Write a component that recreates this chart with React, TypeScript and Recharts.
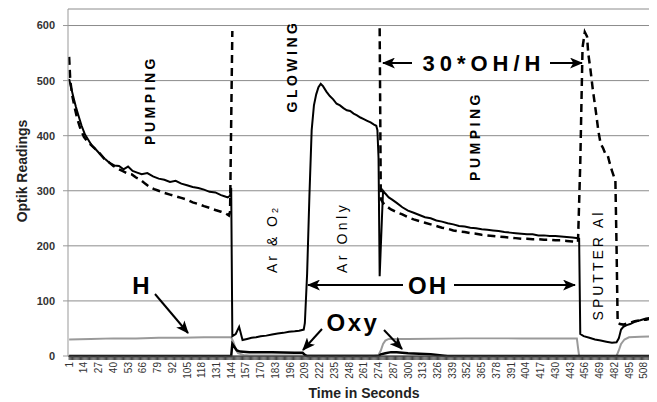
import React from 'react';
import { LineChart, Line, XAxis, YAxis, CartesianGrid } from 'recharts';

const FONT = '"Liberation Sans", Arial, sans-serif';

// [second, reading] pairs
const ohPoints: Array<[number, number]> = [
  [1, 503], [3, 485], [5, 468], [7, 452], [9, 438], [12, 418], [15, 402], [18, 392], [21, 382],
  [25, 374], [29, 365], [33, 357], [37, 350], [41, 346], [45, 345], [49, 339], [53, 344], [57, 336],
  [61, 333], [65, 330], [70, 332], [75, 326], [80, 322], [85, 320], [90, 316], [95, 318], [100, 313],
  [105, 310], [110, 307], [115, 305], [120, 302], [125, 298], [130, 297], [135, 292], [138, 290],
  [141, 288], [143, 291], [144, 305], [145, 36], [148, 40], [151, 53], [154, 29], [158, 31], [162, 33],
  [166, 34], [170, 36], [175, 37], [180, 39], [185, 41], [190, 42], [195, 44], [200, 45], [204, 46],
  [208, 48], [209, 60], [211, 150], [213, 290], [215, 410], [217, 455], [219, 475], [221, 488],
  [223, 494], [225, 490], [228, 480], [231, 472], [234, 466], [237, 458], [240, 455], [243, 450],
  [246, 446], [249, 445], [252, 440], [255, 437], [258, 433], [261, 430], [264, 427], [267, 424],
  [270, 420], [272, 418], [273, 410], [274, 360], [275, 145], [277, 250], [278, 300], [280, 295],
  [283, 288], [286, 284], [290, 278], [295, 270], [300, 264], [305, 260], [310, 256], [315, 252],
  [320, 250], [325, 246], [330, 244], [335, 241], [340, 239], [345, 236], [350, 235], [355, 233],
  [360, 232], [365, 230], [370, 229], [375, 228], [380, 227], [385, 225], [390, 224], [395, 223],
  [400, 222], [405, 221], [410, 221], [415, 219], [420, 219], [425, 218], [430, 218], [435, 217],
  [440, 216], [445, 215], [450, 214], [451, 213], [452, 40], [455, 36], [460, 33], [465, 30],
  [470, 28], [475, 26], [480, 24], [484, 25], [486, 32], [488, 48], [490, 53], [493, 56], [496, 58],
  [500, 62], [505, 65], [510, 68], [515, 70], [520, 72], [525, 73], [530, 74],
];

const ratioPoints: Array<[number, number | null]> = [
  [1, 543], [2, 500], [4, 470], [6, 450], [8, 432], [11, 412], [14, 398], [17, 390], [20, 384],
  [24, 376], [28, 368], [32, 358], [36, 352], [40, 345], [44, 340], [48, 336], [52, 332], [56, 330],
  [60, 324], [64, 320], [68, 313], [72, 307], [76, 303], [80, 300], [85, 296], [90, 293], [95, 290],
  [100, 287], [105, 284], [110, 279], [115, 276], [120, 272], [125, 269], [130, 265], [135, 262],
  [139, 259], [142, 255], [143, 262], [145, 590], [146, null], [274, null], [275, 595], [276, 285],
  [278, 278], [281, 272], [285, 266], [290, 261], [295, 257], [300, 252], [305, 248], [310, 245],
  [315, 242], [320, 239], [325, 236], [330, 233], [335, 231], [340, 228], [345, 226], [350, 225],
  [355, 223], [360, 222], [365, 220], [370, 219], [375, 218], [380, 217], [385, 216], [390, 215],
  [395, 214], [400, 213], [405, 213], [410, 212], [415, 212], [420, 211], [425, 211], [430, 210],
  [435, 210], [440, 209], [445, 208], [450, 207], [452, 350], [454, 560], [456, 588], [458, 580],
  [459, 550], [461, 520], [463, 485], [466, 440], [468, 408], [470, 385], [472, 378], [474, 368],
  [476, 366], [478, 350], [480, 336], [483, 318], [484, 200], [485, 60], [487, 58], [490, 57],
  [495, 60], [500, 63], [505, 65], [510, 66], [515, 68], [520, 69], [530, 71],
];

const hPoints: Array<[number, number]> = [
  [1, 30], [20, 31], [40, 32], [60, 32], [80, 33], [100, 33], [120, 34], [140, 34], [144, 34],
  [146, 25], [148, 12], [150, 5], [155, 2], [160, 1], [200, 1], [240, 1], [270, 1], [274, 2],
  [276, 10], [278, 22], [280, 28], [283, 31], [300, 31], [350, 32], [400, 32], [449, 32], [450, 15],
  [451, 0], [484, 0], [486, 10], [488, 22], [491, 30], [495, 34], [505, 35], [520, 36], [530, 37],
];

const oxyPoints: Array<[number, number]> = [
  [1, 0], [144, 0], [145, 22], [147, 16], [149, 10], [152, 8], [160, 7], [180, 7], [200, 6],
  [207, 6], [209, 2], [211, 0], [274, 0], [276, 3], [280, 5], [285, 7], [290, 7], [295, 6],
  [300, 5], [310, 4], [320, 3], [330, 1], [335, 0], [530, 0],
];

const yTicks = [0, 100, 200, 300, 400, 500, 600];
const labelledSeconds = [
  1, 14, 27, 40, 53, 66, 79, 92, 105, 118, 131, 144, 157, 170, 183, 196, 209, 222, 235, 248, 261,
  274, 287, 300, 313, 326, 339, 352, 365, 378, 391, 404, 417, 430, 443, 456, 469, 482, 495, 508, 521,
];
const everySecond = Array.from({ length: 539 }, (_, i) => i + 1);

const toRows = (pts: Array<[number, number | null]>) => pts.map(([t, v]) => ({ t, v }));

function SecondTick({ x, y, payload }: any) {
  if (!labelledSeconds.includes(payload.value)) return <g />;
  return (
    <text
      x={x}
      y={y}
      transform={`rotate(-90, ${x}, ${y})`}
      textAnchor="end"
      dominantBaseline="central"
      fontSize={10}
      fill="#333"
      fontFamily={FONT}
    >
      {payload.value}
    </text>
  );
}

function VText({ x, y, children, size = 14, weight = 'bold', spacing = 4, anchor = 'middle' }: any) {
  return (
    <text
      x={x}
      y={y}
      transform={`rotate(-90, ${x}, ${y})`}
      textAnchor={anchor}
      dominantBaseline="central"
      fontSize={size}
      fontWeight={weight}
      letterSpacing={spacing}
      fontFamily={FONT}
      fill="#000"
    >
      {children}
    </text>
  );
}

function Notes() {
  const arrow = { stroke: '#000', strokeWidth: 2, markerEnd: 'url(#head)' };
  const big = { fontFamily: FONT, fontWeight: 'bold', fill: '#000', dominantBaseline: 'central', textAnchor: 'middle' } as any;
  return (
    <svg width={680} height={394} style={{ position: 'absolute', left: 0, top: 0, pointerEvents: 'none' }}>
      <defs>
        <marker id="head" viewBox="0 0 12 10" refX="11" refY="5" markerWidth="13" markerHeight="11" markerUnits="userSpaceOnUse" orient="auto">
          <path d="M0,0 L12,5 L0,10 L3,5 z" fill="#000" />
        </marker>
      </defs>
      <VText x={142} y={92} spacing={3.5}>PUMPING</VText>
      <VText x={284} y={58} spacing={3.5}>GLOWING</VText>
      <VText x={467} y={128} spacing={3.5}>PUMPING</VText>
      <VText x={590} y={257} weight="normal" spacing={3}>SPUTTER Al</VText>
      <VText x={264} y={265} weight="normal" anchor="start" spacing={3}>
        Ar &amp; O<tspan fontSize={9} dy={3}>2</tspan>
      </VText>
      <VText x={334} y={265} weight="normal" anchor="start" spacing={3.5}>Ar Only</VText>

      <text x={476} y={55} fontSize={22} letterSpacing={5} {...big}>30*OH/H</text>
      <line x1={404} y1={55} x2={375} y2={55} {...arrow} />
      <line x1={542} y1={55} x2={574} y2={55} {...arrow} />

      <text x={420} y={277} fontSize={24} letterSpacing={2} {...big}>OH</text>
      <line x1={395} y1={277} x2={300} y2={277} {...arrow} />
      <line x1={446} y1={277} x2={567} y2={277} {...arrow} />

      <text x={133} y={277} fontSize={24} {...big}>H</text>
      <line x1={147} y1={286} x2={180} y2={325} {...arrow} />

      <text x={345} y={314} fontSize={24} letterSpacing={2.5} {...big}>Oxy</text>
      <line x1={314} y1={321} x2={295} y2={342} {...arrow} />
      <line x1={376} y1={322} x2={394} y2={341} {...arrow} />
    </svg>
  );
}

export default function App() {
  return (
    <div style={{ width: 649, height: 394, overflow: 'hidden', position: 'relative' }}>
      <LineChart width={680} height={394} margin={{ top: 1, right: 8, left: 0, bottom: 0 }}>
        <CartesianGrid vertical={false} stroke="#8c8c8c" strokeWidth={1} />
        <XAxis
          dataKey="t"
          type="number"
          domain={[0, 540]}
          ticks={everySecond}
          interval={0}
          allowDataOverflow
          height={46}
          tick={<SecondTick />}
          tickSize={4}
          tickLine={{ stroke: '#444' }}
          axisLine={{ stroke: '#444' }}
          label={{
            content: () => (
              <text x={356} y={385} textAnchor="middle" dominantBaseline="central" fontSize={14} fontWeight="bold" fill="#222" fontFamily={FONT}>
                Time in Seconds
              </text>
            ),
          }}
        />
        <YAxis
          type="number"
          domain={[0, 630]}
          ticks={yTicks}
          width={60}
          tickSize={5}
          tickMargin={8}
          axisLine={{ stroke: '#999' }}
          tickLine={{ stroke: '#999' }}
          tick={{ fontSize: 11, fontWeight: 'bold', fill: '#333', fontFamily: FONT }}
          label={{
            content: () => (
              <text x={14} y={163} transform="rotate(-90, 14, 163)" textAnchor="middle" dominantBaseline="central" fontSize={14} fontWeight="bold" fill="#222" fontFamily={FONT}>
                Optik Readings
              </text>
            ),
          }}
        />
        <Line data={toRows(hPoints)} dataKey="v" type="linear" stroke="#9a9a9a" strokeWidth={2} dot={false} isAnimationActive={false} />
        <Line data={toRows(oxyPoints)} dataKey="v" type="linear" stroke="#000" strokeWidth={2.5} dot={false} isAnimationActive={false} />
        <Line data={toRows(ratioPoints)} dataKey="v" type="linear" stroke="#000" strokeWidth={2.5} strokeDasharray="8 5" dot={false} connectNulls={false} isAnimationActive={false} />
        <Line data={toRows(ohPoints)} dataKey="v" type="linear" stroke="#000" strokeWidth={2} dot={false} isAnimationActive={false} />
      </LineChart>
      <Notes />
    </div>
  );
}
